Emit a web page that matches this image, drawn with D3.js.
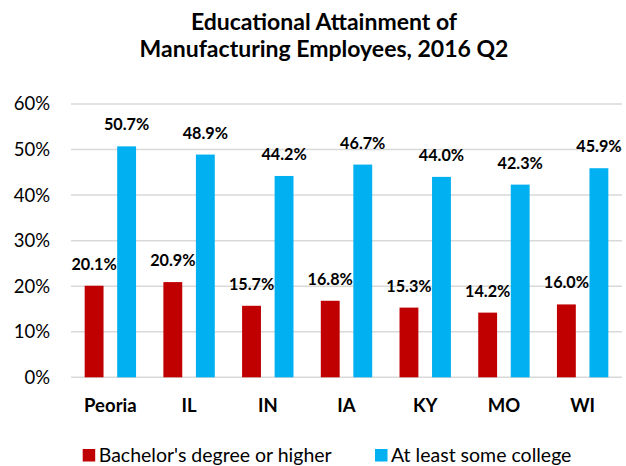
<!DOCTYPE html>
<html>
<head>
<meta charset="utf-8">
<script src="https://cdn.jsdelivr.net/npm/d3@7"></script>
<style>
    body { margin: 0; background: #fff; }
    svg { display: block; font-family: Lato, "Open Sans", sans-serif; }
</style>
</head>
<body>
<div id="chart"></div>
<script>
const categories = ["Peoria", "IL", "IN", "IA", "KY", "MO", "WI"]
const seriesNames = ["Bachelor's degree or higher", "At least some college"]
const bachelors = [20.1, 20.9, 15.7, 16.8, 15.3, 14.2, 16.0]
const someCollege = [50.7, 48.9, 44.2, 46.7, 44.0, 42.3, 45.9]
const yTicks = [0, 10, 20, 30, 40, 50, 60]
const titleLines = ["Educational Attainment of", "Manufacturing Employees, 2016 Q2"]

const colors = ["#c00000", "#00b0f0"]
const width = 626
const height = 466
const plot = { left: 71, right: 622, top: 104, bottom: 377.3 }

const rows = categories.map((c, i) => ({ cat: c, values: [bachelors[i], someCollege[i]] }))

const svg = d3.select("#chart")
    .append("svg")
    .attr("width", width)
    .attr("height", height)

/* TITLE */
svg.append("g")
    .selectAll("text")
    .data(titleLines)
    .enter()
    .append("text")
    .attr("x", 324)
    .attr("y", (d, i) => 29.5 + i * 27)
    .attr("text-anchor", "middle")
    .style("font-size", "23px")
    .style("font-weight", "bold")
    .attr("fill", "#000")
    .text(d => d)

/* SCALES */
const x0 = d3.scaleBand()
    .domain(categories)
    .range([plot.left, plot.right])

const x1 = d3.scaleBand()
    .domain([0, 1])
    .range([0, x0.bandwidth()])
    .paddingInner(0.42)
    .paddingOuter(0.42)

const y = d3.scaleLinear()
    .domain([0, 60])
    .range([plot.bottom, plot.top])

/* GRID LINES */
svg.append("g")
    .selectAll("line")
    .data(yTicks)
    .enter()
    .append("line")
    .attr("x1", plot.left)
    .attr("x2", plot.right)
    .attr("y1", d => y(d))
    .attr("y2", d => y(d))
    .attr("stroke", "#d9d9d9")
    .attr("stroke-width", 1.5)

/* Y AXIS LABELS */
const yAxis = svg.append("g")
    .attr("transform", `translate(${plot.left}, 0)`)
    .call(d3.axisLeft(y).tickValues(yTicks).tickFormat(d => d + "%").tickSize(0).tickPadding(21))
yAxis.select(".domain").remove()
yAxis.selectAll("text")
    .style("font-size", "18.5px")
    .style("font-family", "Lato, sans-serif")
    .attr("fill", "#000")

/* X AXIS LABELS */
const xAxis = svg.append("g")
    .attr("transform", `translate(0, ${plot.bottom})`)
    .call(d3.axisBottom(x0).tickSize(0).tickPadding(0))
xAxis.select(".domain").remove()
xAxis.selectAll("text")
    .attr("dy", null)
    .attr("y", 34.5)
    .style("font-size", "18.5px")
    .style("font-weight", "bold")
    .style("font-family", "Lato, sans-serif")
    .attr("fill", "#000")

/* BARS */
const groups = svg.append("g")
    .selectAll("g")
    .data(rows)
    .enter()
    .append("g")
    .attr("transform", d => `translate(${x0(d.cat)}, 0)`)

groups.selectAll("rect")
    .data(d => d.values)
    .enter()
    .append("rect")
    .attr("x", (d, i) => x1(i))
    .attr("width", x1.bandwidth())
    .attr("y", d => y(d))
    .attr("height", d => y(0) - y(d))
    .attr("fill", (d, i) => colors[i])

/* DATA LABELS */
groups.selectAll("text")
    .data(d => d.values)
    .enter()
    .append("text")
    .attr("x", (d, i) => x1(i) + x1.bandwidth() / 2)
    .attr("y", d => y(d) - 16)
    .attr("text-anchor", "middle")
    .style("font-size", "16.2px")
    .style("font-weight", "bold")
    .attr("fill", "#000")
    .text(d => d.toFixed(1) + "%")

/* LEGEND */
const legendX = [82.7, 375]
const legend = svg.append("g")
    .selectAll("g")
    .data(seriesNames)
    .enter()
    .append("g")
    .attr("transform", (d, i) => `translate(${legendX[i]}, 449)`)

legend.append("rect")
    .attr("width", 12.5)
    .attr("height", 12.5)
    .attr("fill", (d, i) => colors[i])

legend.append("text")
    .attr("x", 16)
    .attr("y", 13)
    .style("font-size", "19.5px")
    .attr("fill", "#000")
    .text(d => d)
</script>
</body>
</html>
